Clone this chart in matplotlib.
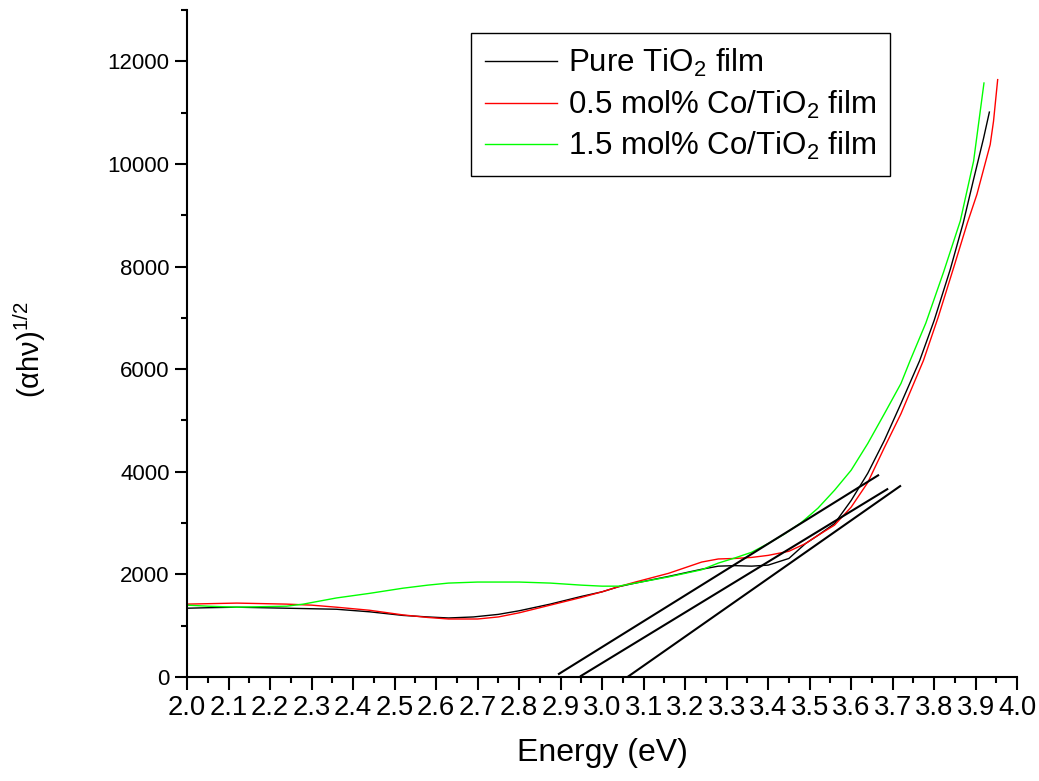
import matplotlib
matplotlib.use("Agg")
import matplotlib.pyplot as plt
from matplotlib.ticker import MultipleLocator

plt.rcParams['font.family'] = ['Liberation Sans', 'DejaVu Sans']
plt.rcParams['mathtext.fontset'] = 'custom'
plt.rcParams['mathtext.rm'] = 'Liberation Sans'
plt.rcParams['mathtext.default'] = 'regular'

# --- данні ---
e_pure = [2.00, 2.05, 2.12, 2.24, 2.36, 2.44, 2.52, 2.58, 2.63, 2.69, 2.75, 2.80,
          2.875, 2.95, 3.00, 3.04, 3.08, 3.16, 3.24, 3.28, 3.32, 3.36, 3.40, 3.45,
          3.49, 3.52, 3.56, 3.60, 3.64, 3.68, 3.72, 3.765, 3.80, 3.839, 3.87, 3.895,
          3.919, 3.933]
y_pure = [1340, 1350, 1360, 1340, 1320, 1270, 1200, 1170, 1150, 1170, 1220, 1290,
          1420, 1570, 1660, 1760, 1830, 1960, 2100, 2160, 2170, 2160, 2180, 2310,
          2600, 2760, 2990, 3440, 3970, 4610, 5330, 6165, 6950, 7950, 8850, 9700,
          10500, 11010]

e_co05 = [2.00, 2.12, 2.24, 2.30, 2.36, 2.44, 2.52, 2.58, 2.63, 2.70, 2.75, 2.80,
          2.875, 2.95, 3.00, 3.04, 3.08, 3.16, 3.24, 3.28, 3.32, 3.36, 3.40, 3.45,
          3.49, 3.52, 3.56, 3.60, 3.64, 3.68, 3.72, 3.774, 3.81, 3.847, 3.88, 3.903,
          3.935, 3.943, 3.953]
y_co05 = [1420, 1440, 1420, 1400, 1360, 1300, 1210, 1160, 1130, 1130, 1170, 1250,
          1400, 1550, 1660, 1760, 1850, 2020, 2240, 2300, 2310, 2330, 2370, 2450,
          2600, 2760, 2960, 3310, 3790, 4470, 5130, 6165, 7020, 7980, 8850, 9406,
          10378, 10832, 11643]

e_co15 = [2.00, 2.05, 2.12, 2.24, 2.28, 2.36, 2.44, 2.52, 2.58, 2.63, 2.70, 2.75,
          2.80, 2.875, 2.95, 3.00, 3.04, 3.08, 3.16, 3.24, 3.28, 3.32, 3.36, 3.40,
          3.44, 3.48, 3.52, 3.56, 3.60, 3.64, 3.68, 3.72, 3.742, 3.78, 3.823, 3.863,
          3.895, 3.920]
y_co15 = [1400, 1380, 1360, 1380, 1420, 1540, 1630, 1730, 1790, 1830, 1850, 1850,
          1850, 1830, 1790, 1770, 1770, 1830, 1950, 2090, 2220, 2320, 2430, 2600,
          2790, 3010, 3290, 3640, 4030, 4550, 5130, 5720, 6165, 6900, 7900, 8890,
          10054, 11577]

# дотичні (початок і кінець)
tan_x = [[2.896, 3.665], [2.949, 3.687], [3.063, 3.718]]
tan_y = [[60, 3930], [20, 3660], [10, 3720]]

labels = ['Pure TiO$_2$ film', '0.5 mol% Co/TiO$_2$ film', '1.5 mol% Co/TiO$_2$ film']
colors = ['#000000', '#ff0000', '#00ff00']

fig = plt.figure(figsize=(10.39, 7.81), dpi=100)
ax = fig.add_axes([0.18, 0.1332, 0.799, 0.854])

ax.plot(e_pure, y_pure, color=colors[0], lw=1.0, label=labels[0])
ax.plot(e_co05, y_co05, color=colors[1], lw=1.0, label=labels[1])
ax.plot(e_co15, y_co15, color=colors[2], lw=1.0, label=labels[2])

for tx, ty in zip(tan_x, tan_y):
    ax.plot(tx, ty, color='black', lw=1.5)

ax.set_xlim(2.0, 4.0)
ax.set_ylim(0, 13000)
ax.xaxis.set_minor_locator(MultipleLocator(0.05))
ax.yaxis.set_major_locator(MultipleLocator(2000))
ax.yaxis.set_minor_locator(MultipleLocator(1000))
ax.set_xticks([2.0 + 0.1 * i for i in range(21)])
ax.set_xticklabels(['%.1f' % (2.0 + 0.1 * i) for i in range(21)], fontsize=19.8)
ax.tick_params(axis='y', labelsize=16)
ax.tick_params(which='major', direction='out', length=9, width=1.5)
ax.tick_params(which='minor', direction='out', length=4.5, width=1.5)
ax.tick_params(axis='x', pad=4)

for s in ['top', 'right']:
    ax.spines[s].set_visible(False)
for s in ['left', 'bottom']:
    ax.spines[s].set_linewidth(1.5)

ax.set_xlabel('Energy (eV)', fontsize=23, labelpad=12)
ax.set_ylabel('(αhν)$^{1/2}$', fontsize=21)
ax.yaxis.set_label_coords(-0.168, 0.49)

leg = ax.legend(loc='upper left', bbox_to_anchor=(471 / 1039, 1 - 33 / 781),
                bbox_transform=fig.transFigure, fontsize=22.5, frameon=True,
                fancybox=False, framealpha=1, edgecolor='black',
                handlelength=2.3, handletextpad=0.35, borderaxespad=0,
                labelspacing=0.3, borderpad=0.45)
leg.get_frame().set_linewidth(1.0)

fig.savefig('out.png', dpi=100)
